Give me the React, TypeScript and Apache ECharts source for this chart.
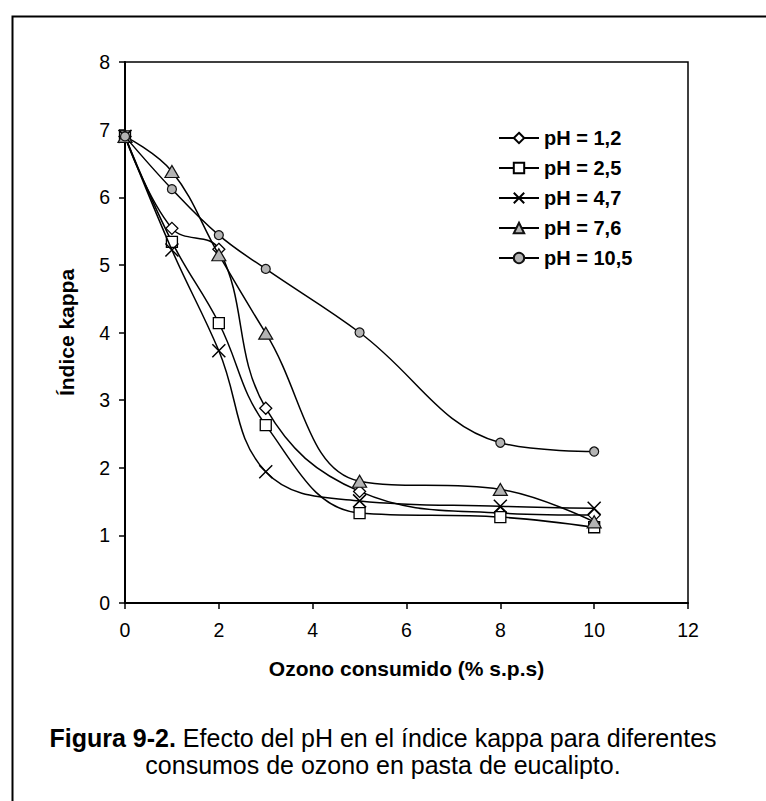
import React, { useEffect, useRef } from "react";
import * as echarts from "echarts";

const FONT = '"Liberation Sans", Arial, Helvetica, sans-serif';

const ozono = [0, 1, 2, 3, 5, 8, 10];
const seriesNames = ["pH = 1,2", "pH = 2,5", "pH = 4,7", "pH = 7,6", "pH = 10,5"];
const ph12 = [6.9, 5.54, 5.23, 2.88, 1.65, 1.33, 1.3];
const ph25 = [6.9, 5.34, 4.14, 2.63, 1.33, 1.27, 1.12];
const ph47 = [6.9, 5.22, 3.73, 1.94, 1.51, 1.43, 1.4];
const ph76 = [6.9, 6.38, 5.15, 3.99, 1.8, 1.68, 1.2];
const ph105 = [6.9, 6.12, 5.44, 4.94, 4.0, 2.37, 2.24];

const xTicks = { min: 0, max: 12, interval: 2 };
const yTicks = { min: 0, max: 8, interval: 1 };

const xTitle = "Ozono consumido (% s.p.s)";
const yTitle = "Índice kappa";
const captionBold = "Figura 9-2.";
const captionLine1 = " Efecto del pH en el índice kappa para diferentes";
const captionLine2 = "consumos de ozono en pasta de eucalipto.";

const GRAY = "#b4b4b4";
const CROSS = "path://M0,0L10,10M10,0L0,10";

export default function App() {
  const ref = useRef<HTMLDivElement>(null);

  useEffect(() => {
    if (!ref.current) return;
    const chart = echarts.init(ref.current, undefined, { renderer: "svg" });

    const allData = [ph12, ph25, ph47, ph76, ph105];
    const markers: any[] = [
      { symbol: "diamond", size: 12, color: "#fff", border: "#000", bw: 1.3 },
      { symbol: "rect", size: 11, color: "#fff", border: "#000", bw: 1.3 },
      { symbol: CROSS, size: 13, color: "#000", border: "#000", bw: 1.5 },
      { symbol: "triangle", size: [14, 12], color: GRAY, border: "#111", bw: 1.2 },
      { symbol: "circle", size: 9, color: GRAY, border: "#111", bw: 1.2 },
    ];

    const series = allData.map((vals, i) => ({
      name: seriesNames[i],
      type: "line",
      data: ozono.map((x, j) => [x, vals[j]]),
      smooth: 0.4,
      symbol: markers[i].symbol,
      symbolSize: markers[i].size,
      showSymbol: true,
      lineStyle: { color: "#000", width: 1.5 },
      itemStyle: {
        color: markers[i].color,
        borderColor: markers[i].border,
        borderWidth: markers[i].bw,
      },
      emphasis: { disabled: true },
      z: 2 + i,
    }));

    chart.setOption({
      animation: false,
      backgroundColor: "#fff",
      textStyle: { fontFamily: FONT },
      grid: {
        left: 125,
        top: 62,
        right: 78,
        bottom: 198,
        show: true,
        borderColor: "#000",
        borderWidth: 1.5,
        containLabel: false,
      },
      legend: {
        orient: "vertical",
        left: 493,
        top: 123,
        itemWidth: 40,
        itemHeight: 13,
        itemGap: 10,
        textStyle: {
          fontFamily: FONT,
          fontWeight: "bold",
          fontSize: 20,
          lineHeight: 20,
          color: "#000",
        },
        data: seriesNames,
      },
      xAxis: {
        type: "value",
        min: xTicks.min,
        max: xTicks.max,
        interval: xTicks.interval,
        name: xTitle,
        nameLocation: "middle",
        nameGap: 55,
        nameTextStyle: { fontFamily: FONT, fontWeight: "bold", fontSize: 21, color: "#000" },
        splitLine: { show: false },
        axisLine: { show: true, onZero: false, lineStyle: { color: "#000", width: 2 } },
        axisTick: { show: true, length: 6, lineStyle: { color: "#000", width: 1.5 } },
        axisLabel: { fontFamily: FONT, fontSize: 19.5, color: "#000", margin: 17 },
      },
      yAxis: {
        type: "value",
        min: yTicks.min,
        max: yTicks.max,
        interval: yTicks.interval,
        name: yTitle,
        nameLocation: "middle",
        nameGap: 48,
        nameTextStyle: { fontFamily: FONT, fontWeight: "bold", fontSize: 21, color: "#000" },
        splitLine: { show: false },
        axisLine: { show: true, onZero: false, lineStyle: { color: "#000", width: 2 } },
        axisTick: { show: true, length: 6, lineStyle: { color: "#000", width: 1.5 } },
        axisLabel: { fontFamily: FONT, fontSize: 19.5, color: "#000", margin: 15 },
      },
      graphic: [
        {
          type: "rect",
          left: 10,
          top: 14,
          shape: { x: 0, y: 0, width: 800, height: 900 },
          style: { fill: "none", stroke: "#000", lineWidth: 2 },
          silent: true,
          z: 0,
        },
        {
          type: "text",
          x: 383,
          y: 738,
          style: {
            text: "{b|" + captionBold + "}{r|" + captionLine1 + "}",
            align: "center",
            verticalAlign: "middle",
            fontFamily: FONT,
            fontSize: 25,
            fill: "#000",
            rich: {
              b: { fontFamily: FONT, fontSize: 25, fontWeight: "bold", fill: "#000" },
              r: { fontFamily: FONT, fontSize: 25, fill: "#000" },
            },
          },
          silent: true,
        },
        {
          type: "text",
          x: 383,
          y: 765,
          style: {
            text: captionLine2,
            align: "center",
            verticalAlign: "middle",
            fontFamily: FONT,
            fontSize: 25,
            fill: "#000",
          },
          silent: true,
        },
      ],
      series,
    });

    return () => chart.dispose();
  }, []);

  return (
    <div
      ref={ref}
      style={{ position: "fixed", left: 0, top: 0, width: 766, height: 801, background: "#fff" }}
    />
  );
}
